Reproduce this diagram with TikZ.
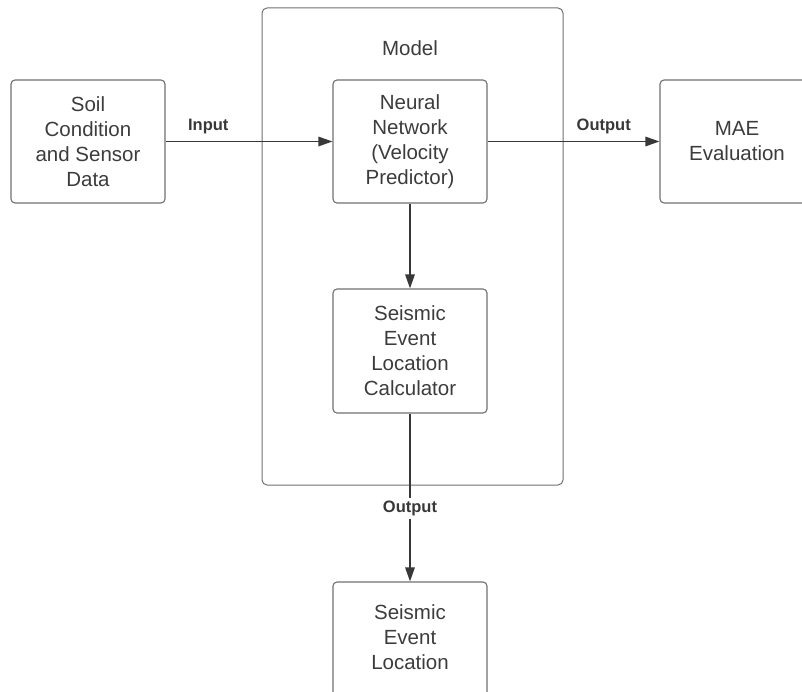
\documentclass[tikz,border=0pt]{standalone}
\usepackage{fontspec}
\setmainfont{Liberation Sans}
\usetikzlibrary{arrows.meta}
\definecolor{txt}{HTML}{3C3C3C}
\definecolor{edgec}{HTML}{707070}
\definecolor{arr}{HTML}{383838}
\begin{document}
\begin{tikzpicture}[x=1pt,y=-1pt,
 box/.style={draw=edgec, line width=1.1pt, rounded corners=4pt, minimum width=154pt, minimum height=123pt, inner sep=0pt, text=txt, font=\fontsize{20.5}{25}\selectfont, align=center},
 boxtext/.style={text=txt, font=\fontsize{20.5}{25}\selectfont, align=center, inner sep=0pt},
 frame/.style={draw=edgec, line width=1pt, rounded corners=5pt, inner sep=0pt},
 flow/.style={draw=arr, line width=1.4pt, -{Triangle[length=14pt,width=9.5pt]}},
 lbl/.style={font=\fontsize{16.5}{19}\selectfont\bfseries, text=arr, inner sep=1pt}]
\useasboundingbox (0,0) rectangle (802,692);
\clip (0,0) rectangle (802,692);
\node[frame, minimum width=301pt, minimum height=477pt] (model) at (412.5,246.5) {};
\node[boxtext] (modeltitle) at (410,48) {Model};
\node[box] (soil) at (88,141.5) {Soil\\Condition\\and Sensor\\Data};
\node[box] (nn) at (410,141.5) {Neural\\Network\\(Velocity\\Predictor)};
\node[box] (mae) at (737,141.5) {MAE\\Evaluation};
\node[box, minimum height=124pt] (calc) at (410,351) {Seismic\\Event\\Location\\Calculator};
\node[box] (loc) at (410,643.5) {};
\node[boxtext] (loctext) at (410,637) {Seismic\\Event\\Location};
\draw[flow] (soil.east) -- (nn.west) node[lbl, pos=0.256, yshift=15pt] {Input};
\draw[flow] (nn.east) -- (mae.west) node[lbl, pos=0.676, yshift=15pt] {Output};
\draw[flow] (nn.south) -- (calc.north);
\draw[flow] (calc.south) -- (loc.north) node[lbl, pos=0.568, fill=white, inner sep=3pt] {Output};
\end{tikzpicture}
\end{document}
